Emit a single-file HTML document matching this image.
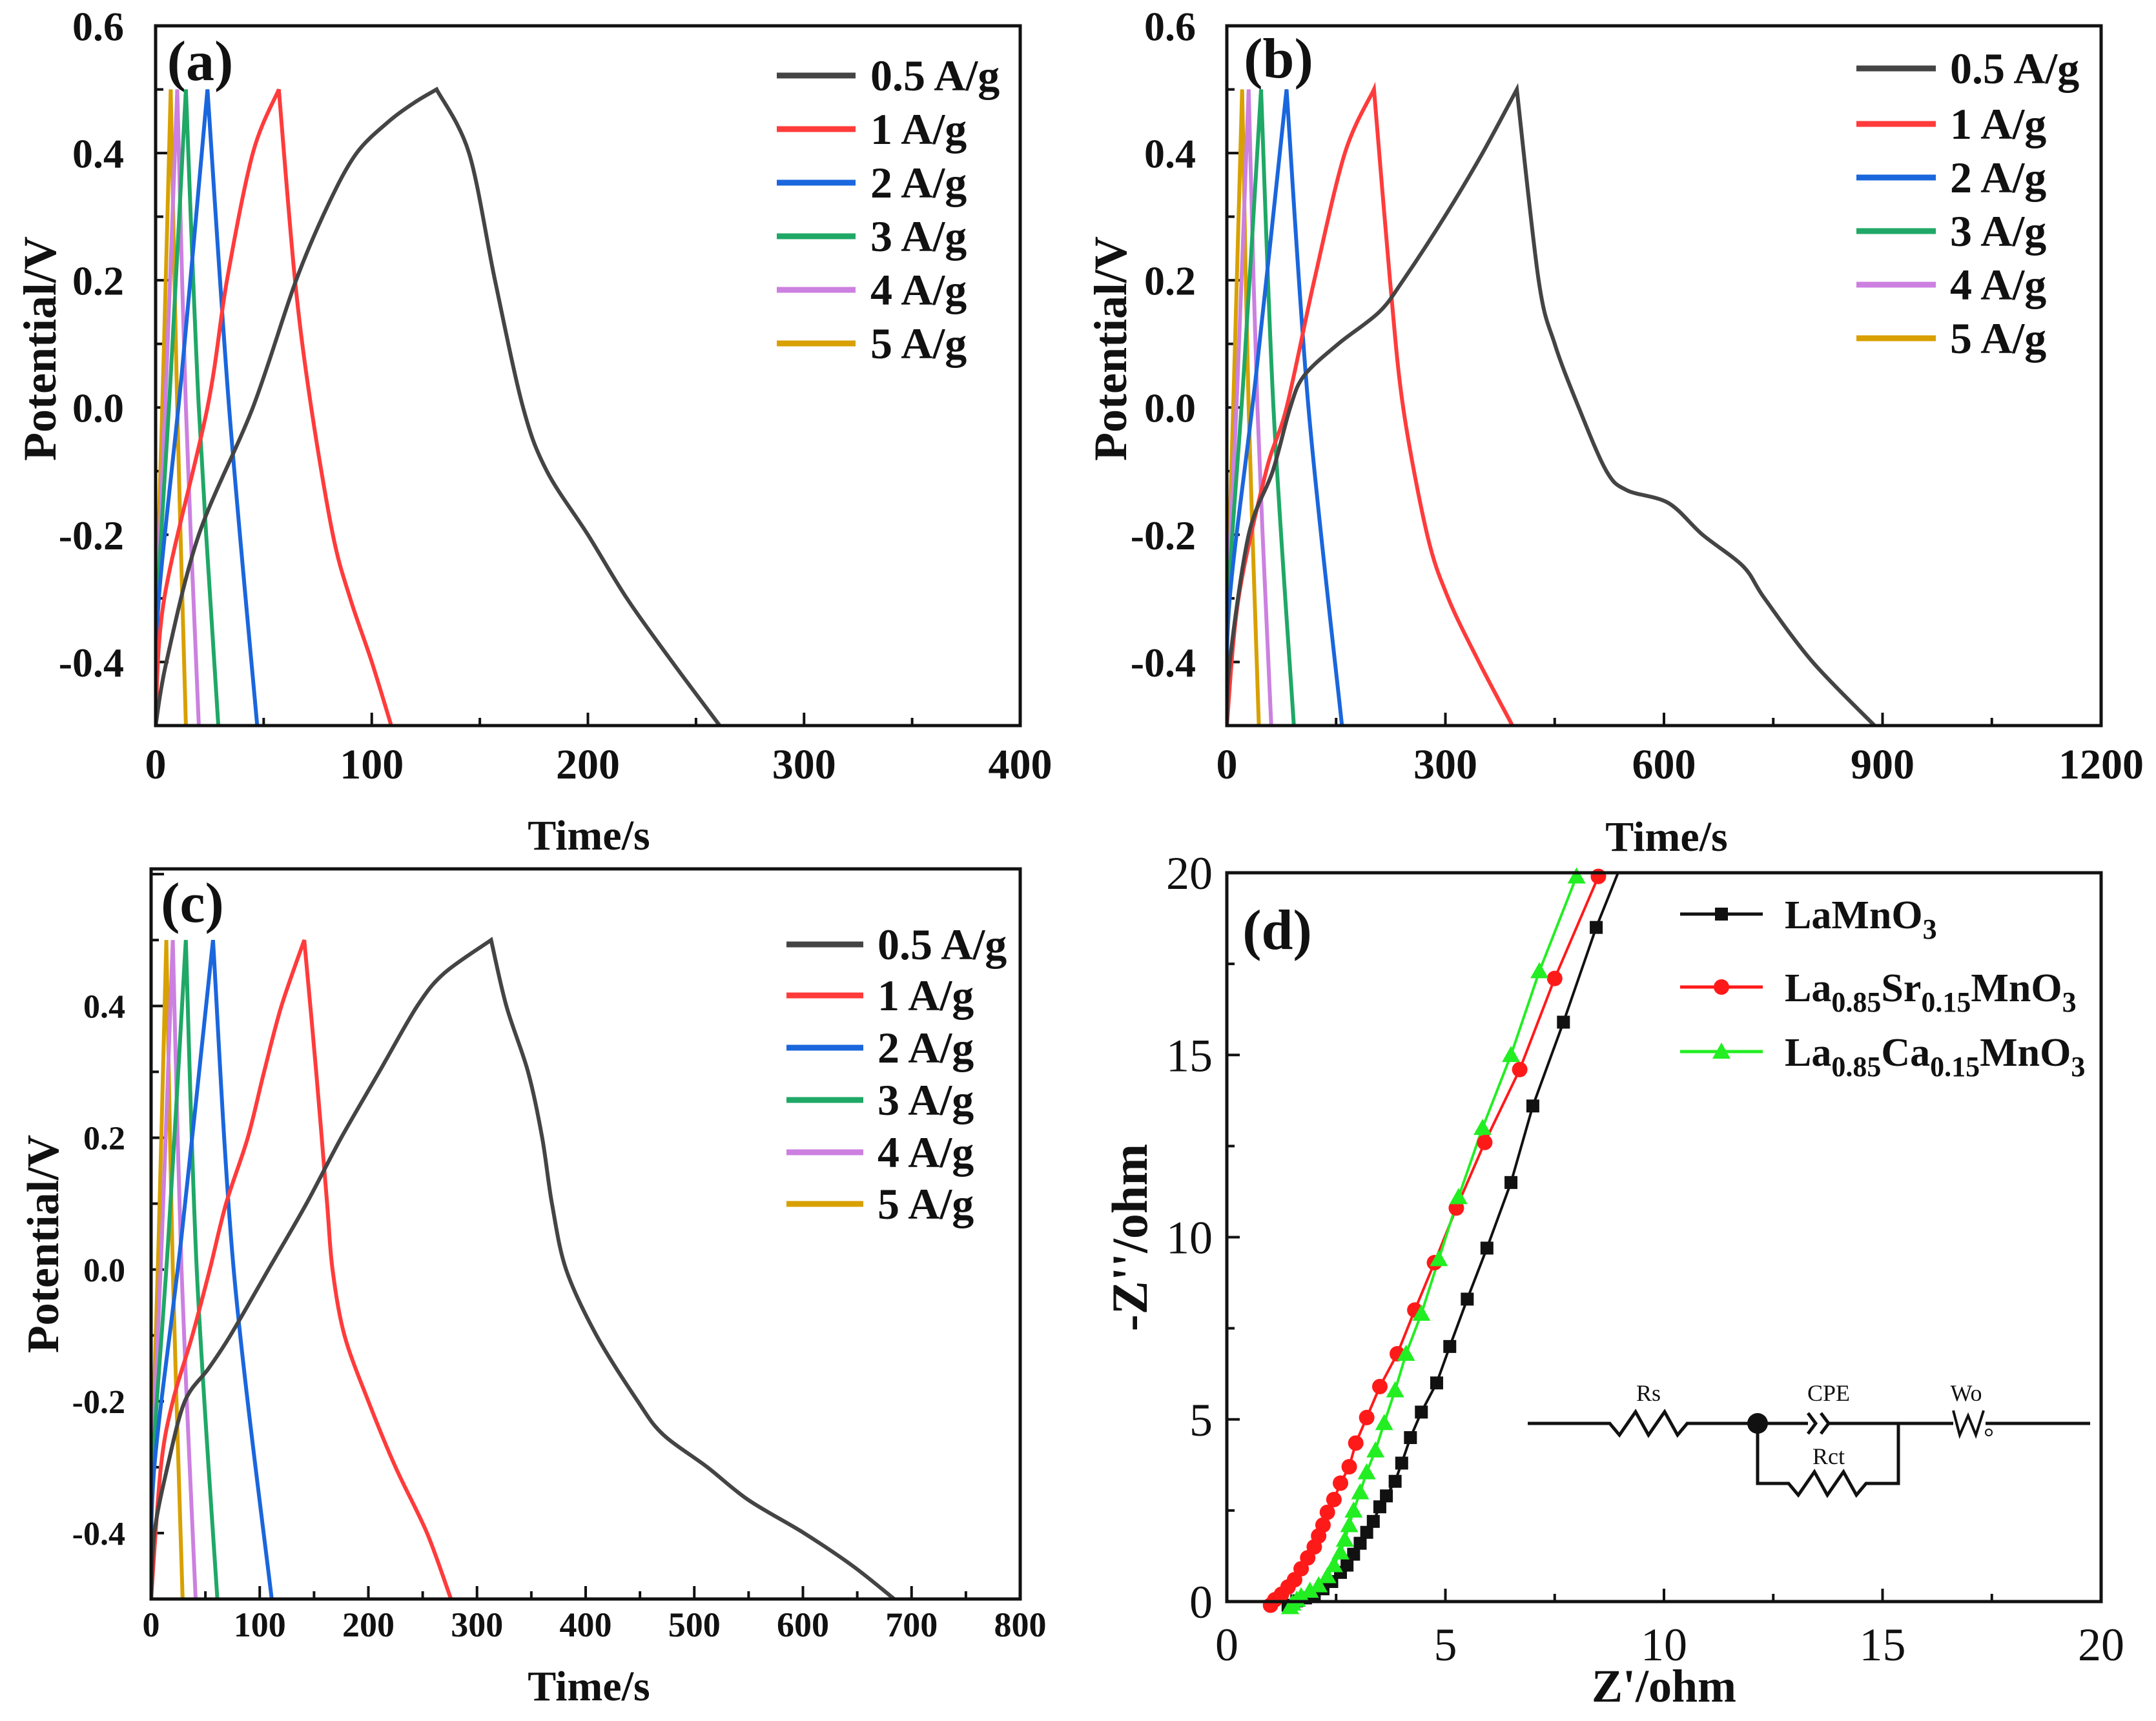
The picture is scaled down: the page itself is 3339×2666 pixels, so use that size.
<!DOCTYPE html>
<html><head><meta charset="utf-8">
<style>
html,body{margin:0;padding:0;background:#fff;}
svg{display:block;}
text{font-family:"Liberation Serif",serif;}
</style></head>
<body>
<svg id="fig" xmlns="http://www.w3.org/2000/svg" width="3339" height="2666" viewBox="0 0 3339 2666"></svg>
<script>
// ---------- Panel data ----------
const seriesNames = ["0.5 A/g","1 A/g","2 A/g","3 A/g","4 A/g","5 A/g"];
const seriesColors = ["#444444","#ff3b3b","#1a66dd","#1fa866","#cc80e0","#d8a000"];

// Panel (a) time (s) / potential (V)
const aT05 = [0,5,20,45,65,80,93,108,120,130,145,157,170,181,200,218,239,261];
const aV05 = [-0.5,-0.4,-0.2,0.0,0.2,0.32,0.4,0.45,0.48,0.5,0.4,0.2,0.0,-0.1,-0.2,-0.3,-0.4,-0.5];
const aT1 = [0,4,24,33,45,57,64.5,72,82,90,100,109];
const aV1 = [-0.5,-0.3,0.0,0.2,0.4,0.5,0.2,0.0,-0.2,-0.3,-0.4,-0.5];
const aT2 = [0,1.5,12,24,34,47];
const aV2 = [-0.5,-0.3,0.05,0.5,0.0,-0.5];
const aT3 = [0,1,7,14,20,29];
const aV3 = [-0.5,-0.3,0.05,0.5,0.0,-0.5];
const aT4 = [0,0.7,5,10,14,20];
const aV4 = [-0.5,-0.3,0.05,0.5,0.0,-0.5];
const aT5 = [0,0.5,3.5,7,10,14];
const aV5 = [-0.5,-0.3,0.05,0.5,0.0,-0.5];

// Panel (b)
const bT05 = [0,4,30,63,87,106,153,209,242,299,351,398,428,450,483,521,549,606,653,709,738,804,889];
const bV05 = [-0.5,-0.4,-0.2,-0.1,0.0,0.05,0.1,0.15,0.2,0.3,0.4,0.5,0.2,0.1,0.0,-0.1,-0.13,-0.15,-0.2,-0.25,-0.3,-0.4,-0.5];
const bT1 = [0,16,54,82,120,162,202,224,242,275,304,346,392];
const bV1 = [-0.5,-0.3,-0.1,0.0,0.2,0.4,0.5,0.2,0.0,-0.2,-0.3,-0.4,-0.5];
const bT2 = [0,4,40,82,112,158];
const bV2 = [-0.5,-0.3,0.05,0.5,0.0,-0.5];
const bT3 = [0,2,23,47,64,92];
const bV3 = [-0.5,-0.3,0.05,0.5,0.0,-0.5];
const bT4 = [0,1.5,15,30,42,61];
const bV4 = [-0.5,-0.3,0.05,0.5,0.0,-0.5];
const bT5 = [0,1,10,21,30,44];
const bV5 = [-0.5,-0.3,0.05,0.5,0.0,-0.5];

// Panel (c)
const cT05 = [0,3,15,31,53,73,108,143,175,210,245,270,313,327,347,360,369,382,410,448,471,512,550,601,646,684];
const cV05 = [-0.5,-0.4,-0.3,-0.2,-0.15,-0.1,0.0,0.1,0.2,0.3,0.4,0.45,0.5,0.4,0.3,0.2,0.1,0.0,-0.1,-0.2,-0.25,-0.3,-0.35,-0.4,-0.45,-0.5];
const cT1 = [0,9,20,38,54,69,89,104,120,141,152,162,167,178,200,225,254,276];
const cV1 = [-0.5,-0.3,-0.2,-0.1,0.0,0.1,0.2,0.3,0.4,0.5,0.3,0.1,0.0,-0.1,-0.2,-0.3,-0.4,-0.5];
const cT2 = [0,3,28,57,76,111];
const cV2 = [-0.5,-0.3,0.05,0.5,0.0,-0.5];
const cT3 = [0,1.5,16,32,42,61];
const cV3 = [-0.5,-0.3,0.05,0.5,0.0,-0.5];
const cT4 = [0,1,10,20,28,41];
const cV4 = [-0.5,-0.3,0.05,0.5,0.0,-0.5];
const cT5 = [0,0.7,7,14,20,29];
const cV5 = [-0.5,-0.3,0.05,0.5,0.0,-0.5];

// Panel (d) Nyquist
const dNames = ["LaMnO3","La0.85Sr0.15MnO3","La0.85Ca0.15MnO3"];
const dBlackX = [1.4,1.6,1.8,2.0,2.2,2.4,2.6,2.75,2.9,3.05,3.2,3.35,3.5,3.65,3.85,4.0,4.2,4.45,4.8,5.1,5.5,5.95,6.5,7.0,7.7,8.45];
const dBlackY = [-0.1,0.02,0.1,0.2,0.35,0.55,0.8,1.0,1.3,1.6,1.9,2.2,2.6,2.9,3.3,3.8,4.5,5.2,6.0,7.0,8.3,9.7,11.5,13.6,15.9,18.5];
const dRedX = [1.0,1.1,1.25,1.4,1.55,1.7,1.85,2.0,2.1,2.2,2.3,2.45,2.6,2.8,2.95,3.2,3.5,3.9,4.3,4.75,5.25,5.9,6.7,7.5,8.5];
const dRedY = [-0.1,0.05,0.2,0.4,0.6,0.9,1.2,1.5,1.8,2.1,2.45,2.8,3.25,3.7,4.35,5.05,5.9,6.8,8.0,9.3,10.8,12.6,14.6,17.1,19.9];
const dGreenX = [1.45,1.5,1.6,1.7,1.9,2.1,2.3,2.45,2.6,2.7,2.8,2.9,3.05,3.2,3.4,3.6,3.85,4.1,4.45,4.85,5.3,5.85,6.5,7.15,8.0];
const dGreenY = [-0.15,-0.05,0.05,0.15,0.3,0.45,0.7,1.0,1.35,1.7,2.1,2.5,3.0,3.55,4.15,4.9,5.8,6.8,7.9,9.4,11.1,13.0,15.0,17.3,19.9];
const dBlackExt = [8.95,20]; // line end at top

const NS='http://www.w3.org/2000/svg';
const svg=document.getElementById('fig');
function el(tag,attrs,parent,txt){const e=document.createElementNS(NS,tag);for(const k in attrs)e.setAttribute(k,attrs[k]);if(txt!==undefined)e.textContent=txt;(parent||svg).appendChild(e);return e;}
function smoothSeg(pts,first){
  if(pts.length<2)return '';
  let d=first?('M'+pts[0][0].toFixed(1)+','+pts[0][1].toFixed(1)):'';
  for(let i=0;i<pts.length-1;i++){
    const p0=pts[Math.max(0,i-1)],p1=pts[i],p2=pts[i+1],p3=pts[Math.min(pts.length-1,i+2)];
    const t=0.16;
    const c1=[p1[0]+(p2[0]-p0[0])*t,p1[1]+(p2[1]-p0[1])*t];
    const c2=[p2[0]-(p3[0]-p1[0])*t,p2[1]-(p3[1]-p1[1])*t];
    d+=' C'+c1[0].toFixed(1)+','+c1[1].toFixed(1)+' '+c2[0].toFixed(1)+','+c2[1].toFixed(1)+' '+p2[0].toFixed(1)+','+p2[1].toFixed(1);
  }
  return d;
}
function smoothPeak(pts){
  let im=0;pts.forEach((p,i)=>{if(p[1]<pts[im][1])im=i;});
  return smoothSeg(pts.slice(0,im+1),true)+smoothSeg(pts.slice(im),false);
}

function axes(cfg){
  const g=el('g',{});
  
  
  const sx=v=>cfg.L+(v-cfg.x0)/(cfg.x1-cfg.x0)*(cfg.R-cfg.L);
  const sy=v=>cfg.B-(v-cfg.y0)/(cfg.y1-cfg.y0)*(cfg.B-cfg.T);
  cfg.sx=sx;cfg.sy=sy;cfg.g=g;
  const tg=el('g',{stroke:'#111','stroke-width':4},g);
  
  
  for(let v=cfg.x0;v<=cfg.x1+1e-9;v+=cfg.xminor){
    const major=Math.abs(Math.round((v-cfg.x0)/cfg.xmajor)*cfg.xmajor-(v-cfg.x0))<1e-6;
    const len=major?20:12;const X=sx(v);
    el('line',{x1:X,y1:cfg.B,x2:X,y2:cfg.B-len},tg);
  }
  for(let v=cfg.yt0;v<=cfg.y1+1e-9;v+=cfg.yminor){
    const major=Math.abs(Math.round((v-cfg.yt0)/cfg.ymajor)*cfg.ymajor-(v-cfg.yt0))<1e-6;
    const len=major?20:12;const Y=sy(v);
    el('line',{x1:cfg.L,y1:Y,x2:cfg.L+len,y2:Y},tg);
  }
  cfg.xlabels.forEach((lab,i)=>{
    const t=el('text',{x:sx(cfg.xlabelVals[i]),y:cfg.xlabY,'text-anchor':'middle','font-size':cfg.xfs||cfg.tfs,'font-weight':cfg.tfw,fill:'#111'},g,lab);
    
    
  });
  cfg.ylabels.forEach((lab,i)=>{
    const t=el('text',{x:cfg.ylabX,y:sy(cfg.ylabelVals[i])+cfg.tfs*0.35,'text-anchor':'end','font-size':cfg.tfs,'font-weight':cfg.tfw,fill:'#111'},g,lab);
    
    
  });
  const xt=el('text',{x:cfg.xtX,y:cfg.xtY,'text-anchor':'middle','font-size':cfg.xtfs,'font-weight':'bold',fill:'#111'},g,cfg.xtitle);
  
  
  const yt=el('text',{x:0,y:0,'text-anchor':'middle','font-size':cfg.ytfs,'font-weight':'bold',fill:'#111',transform:`translate(${cfg.ytX},${cfg.ytY}) rotate(-90)`},g,cfg.ytitle);
  
  
  const pl=el('text',{x:cfg.plX,y:cfg.plY,'text-anchor':'middle','font-size':88,'font-weight':'bold',fill:'#111'},g,cfg.plabel);
  
  
  return cfg;
}
function frame(cfg){
  const r=el('rect',{x:cfg.L,y:cfg.T,width:cfg.R-cfg.L,height:cfg.B-cfg.T,fill:'none',stroke:'#111','stroke-width':5},cfg.g);
  
  
}

function gcdPanel(cfg,ts,vs,legend){
  axes(cfg);
  const clip='clip-'+cfg.name;
  const cp=el('clipPath',{id:clip},cfg.g);
  el('rect',{x:cfg.L,y:cfg.T,width:cfg.R-cfg.L,height:cfg.B-cfg.T},cp);
  for(let s=ts.length-1;s>=0;s--){
    const pts=ts[s].map((t,i)=>[cfg.sx(t),cfg.sy(vs[s][i])]);
    const p=el('path',{d:smoothPeak(pts),fill:'none',stroke:seriesColors[s],'stroke-width':6,'clip-path':`url(#${clip})`,'stroke-linejoin':'miter'},cfg.g);
    
    
  }
  frame(cfg);
  legend.rows.forEach((y,i)=>{
    const lg=el('g',{},cfg.g);
    
    
    el('line',{x1:legend.x1,y1:y,x2:legend.x2,y2:y,stroke:seriesColors[i],'stroke-width':9},lg);
    el('text',{x:legend.tx,y:y+23,'font-size':68,'font-weight':'bold',fill:'#111'},lg,seriesNames[i]);
  });
}

gcdPanel({
  name:'panel-a',L:241,R:1580,T:40,B:1124,x0:0,x1:400,y0:-0.5,y1:0.6,yt0:-0.4,xmajor:100,xminor:50,ymajor:0.2,yminor:0.1,
  xlabels:['0','100','200','300','400'],xlabelVals:[0,100,200,300,400],xlabY:1206,xfs:66,
  ylabels:['-0.4','-0.2','0.0','0.2','0.4','0.6'],ylabelVals:[-0.4,-0.2,0,0.2,0.4,0.6],ylabX:192,tfs:64,tfw:'bold',
  xtitle:'Time/s',xtX:912,xtY:1316,xtfs:66,ytitle:'Potential/V',ytX:86,ytY:540,ytfs:72,plabel:'(a)',plX:310,plY:124
},[aT05,aT1,aT2,aT3,aT4,aT5],[aV05,aV1,aV2,aV3,aV4,aV5],{x1:1203,x2:1325,tx:1348,rows:[117,200,283,366,449,532]});

gcdPanel({
  name:'panel-b',L:1900,R:3254,T:40,B:1124,x0:0,x1:1200,y0:-0.5,y1:0.6,yt0:-0.4,xmajor:300,xminor:150,ymajor:0.2,yminor:0.1,
  xlabels:['0','300','600','900','1200'],xlabelVals:[0,300,600,900,1200],xlabY:1206,xfs:66,
  ylabels:['-0.4','-0.2','0.0','0.2','0.4','0.6'],ylabelVals:[-0.4,-0.2,0,0.2,0.4,0.6],ylabX:1852,tfs:64,tfw:'bold',
  xtitle:'Time/s',xtX:2581,xtY:1318,xtfs:66,ytitle:'Potential/V',ytX:1744,ytY:540,ytfs:72,plabel:'(b)',plX:1980,plY:120
},[bT05,bT1,bT2,bT3,bT4,bT5],[bV05,bV1,bV2,bV3,bV4,bV5],{x1:2875,x2:2998,tx:3020,rows:[106,192,275,358,441,524]});

gcdPanel({
  name:'panel-c',L:234,R:1580,T:1346,B:2477,x0:0,x1:800,y0:-0.5,y1:0.608,yt0:-0.4,xmajor:100,xminor:50,ymajor:0.2,yminor:0.1,
  xlabels:['0','100','200','300','400','500','600','700','800'],xlabelVals:[0,100,200,300,400,500,600,700,800],xlabY:2535,xfs:54,
  ylabels:['-0.4','-0.2','0.0','0.2','0.4'],ylabelVals:[-0.4,-0.2,0,0.2,0.4],ylabX:194,tfs:52,tfw:'bold',
  xtitle:'Time/s',xtX:912,xtY:2634,xtfs:66,ytitle:'Potential/V',ytX:90,ytY:1927,ytfs:70,plabel:'(c)',plX:298,plY:1428
},[cT05,cT1,cT2,cT3,cT4,cT5],[cV05,cV1,cV2,cV3,cV4,cV5],{x1:1218,x2:1337,tx:1359,rows:[1463,1542,1623,1704,1785,1865]});

(function(){
  const cfg=axes({
    name:'panel-d',L:1900,R:3254,T:1352,B:2481,x0:0,x1:20,y0:0,y1:20,yt0:0,xmajor:5,xminor:2.5,ymajor:5,yminor:2.5,
    xlabels:['0','5','10','15','20'],xlabelVals:[0,5,10,15,20],xlabY:2572,xfs:72,
    ylabels:['0','5','10','15','20'],ylabelVals:[0,5,10,15,20],ylabX:1878,tfs:72,tfw:'normal',
    xtitle:"Z'/ohm",xtX:2577,xtY:2636,xtfs:72,ytitle:"-Z''/ohm",ytX:1776,ytY:1917,ytfs:78,plabel:'(d)',plX:1978,plY:1470
  });
  const g=cfg.g,sx=cfg.sx,sy=cfg.sy;
  const cols=['#111111','#ff1a1a','#22ee22'];
  const sets=[[dBlackX.concat([dBlackExt[0]]),dBlackY.concat([dBlackExt[1]])],[dRedX,dRedY],[dGreenX,dGreenY]];
  const cp=el('clipPath',{id:'clip-d'},g);
  el('rect',{x:cfg.L,y:cfg.T-20,width:cfg.R-cfg.L,height:cfg.B-cfg.T+60},cp);
  sets.forEach((s,k)=>{
    const pts=s[0].map((x,i)=>[sx(x),sy(s[1][i])]);
    const p=el('polyline',{points:pts.map(p=>p.join(',')).join(' '),fill:'none',stroke:cols[k],'stroke-width':4,'clip-path':'url(#clip-d)'},g);
    
    
  });
  function marker(k,x,y,parent){
    if(k===0)return el('rect',{x:x-10,y:y-10,width:20,height:20,fill:cols[0]},parent);
    if(k===1)return el('circle',{cx:x,cy:y,r:12,fill:cols[1]},parent);
    return el('polygon',{points:`${x},${y-14} ${x-14},${y+11} ${x+14},${y+11}`,fill:cols[2]},parent);
  }
  [[dBlackX,dBlackY],[dRedX,dRedY],[dGreenX,dGreenY]].forEach((s,k)=>{
    s[0].forEach((x,i)=>{
      const m=marker(k,sx(x),sy(s[1][i]),g);
      
      
    });
  });
  frame(cfg);
  const rows=[1416,1529,1629];
  rows.forEach((y,k)=>{
    const lg=el('g',{},g);
    
    
    el('line',{x1:2602,y1:y,x2:2730,y2:y,stroke:cols[k],'stroke-width':5},lg);
    marker(k,2666,y,lg);
    const t=el('text',{x:2764,y:y+22,'font-size':62,'font-weight':'bold',fill:'#111'},lg);
    const parts=k===0?[['LaMnO',0],['3',1]]:k===1?[['La',0],['0.85',1],['Sr',0],['0.15',1],['MnO',0],['3',1]]:[['La',0],['0.85',1],['Ca',0],['0.15',1],['MnO',0],['3',1]];
    let prev=0;
    parts.forEach(p=>{
      const ts=el('tspan',{},t,p[0]);
      if(p[1]){ts.setAttribute('font-size','44');ts.setAttribute('dy',String(16-prev));prev=16;}
      else{ts.setAttribute('dy',String(-prev));prev=0;}
    });
  });
  const c=el('g',{fill:'none',stroke:'#111','stroke-width':5},g);
  
  
  const Y=2205,Y2=2298;
  el('path',{d:`M2366,${Y} L2493,${Y} L2508,${Y+18} L2533,${Y-18} L2553,${Y+18} L2578,${Y-18} L2598,${Y+18} L2613,${Y} L2722,${Y} L2800,${Y}`},c);
  el('path',{d:`M2800,${Y-16} L2812,${Y} L2800,${Y+16} M2820,${Y-16} L2832,${Y} L2820,${Y+16}`},c);
  el('path',{d:`M2832,${Y} L2940,${Y} L3025,${Y} M3075,${Y} L3237,${Y}`},c);
  el('path',{d:`M2722,${Y} L2722,${Y2} L2770,${Y2} L2785,${Y2+18} L2810,${Y2-18} L2830,${Y2+18} L2855,${Y2-18} L2875,${Y2+18} L2890,${Y2} L2940,${Y2} L2940,${Y}`},c);
  el('path',{d:`M3025,${Y-20} L3035,${Y+18} L3048,${Y-12} L3060,${Y+18} L3072,${Y-20}`,'stroke-width':4},c);
  el('circle',{cx:2722,cy:Y,r:16,fill:'#111',stroke:'none'},c);
  el('circle',{cx:3080,cy:Y+14,r:5,'stroke-width':2},c);
  [['Rs',2553,2170],['CPE',2832,2170],['Wo',3045,2170],['Rct',2832,2268]].forEach(a=>{
    const t=el('text',{x:a[1],y:a[2],'text-anchor':'middle','font-size':36,'font-family':'Liberation Sans, sans-serif',fill:'#111'},g,a[0]);
    
    
  });
})();
</script>
</body></html>
